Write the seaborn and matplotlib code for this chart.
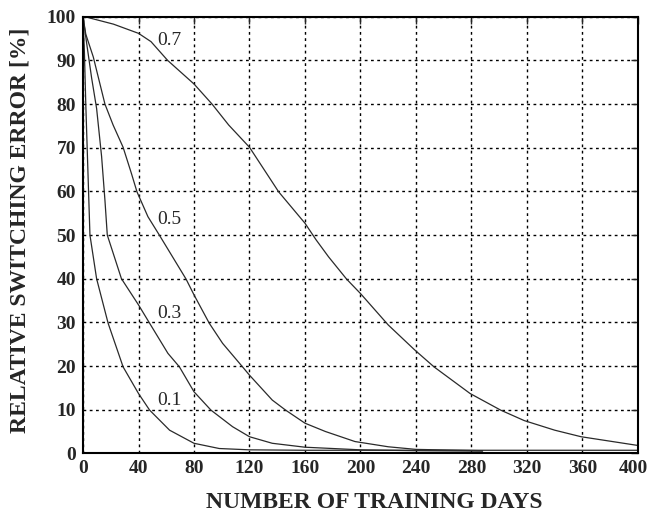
import pandas as pd
import numpy as np
import matplotlib
matplotlib.use("Agg")
import matplotlib.pyplot as plt
import matplotlib.transforms as mtransforms
import seaborn as sns

# values (days, relative switching error %)
days_07 = [0, 1.4, 22, 40, 49, 61, 80, 93, 105, 120, 141, 160, 168, 177, 190, 200,
           220, 239, 253, 279, 301, 318, 340, 359, 400]
err_07 = [100, 100, 98.3, 96.2, 94.3, 90, 84.6, 80, 75.2, 70.1, 59.9, 52.7, 48.9, 45, 39.9, 36.6,
          29.4, 23.7, 19.8, 13.7, 9.9, 7.5, 5.3, 3.8, 1.8]

days_05 = [0, 2, 7.4, 15.8, 21.7, 28.9, 34.9, 38.9, 46.8, 55, 74.3, 80, 91, 100.6, 115, 120,
           136.4, 146, 160, 174.7, 196, 220, 240, 288]
err_05 = [100, 96, 90.8, 80, 75.2, 70.1, 64.1, 59.9, 54.2, 50, 39.9, 36.3, 29.8, 25.2, 19.8, 17.9,
          12.2, 9.9, 6.9, 5, 2.7, 1.5, 0.9, 0.6]

days_03 = [0, 2.6, 6.2, 9.8, 13.4, 15.8, 17.5, 27.7, 40, 48, 61.2, 69.5, 80, 92.2, 107.8, 120,
           136.4, 160, 200, 240, 288]
err_03 = [100, 94, 86, 79, 68, 58, 50, 40, 34, 29.8, 22.9, 19.8, 14.1, 9.9, 6.1, 3.8,
          2.3, 1.4, 0.8, 0.6, 0.5]

days_01 = [0, 1, 2, 3, 4, 5, 9.8, 18.1, 28.9, 40, 48, 62.4, 80, 98.2, 120, 160, 240, 400]
err_01 = [100, 92, 80, 70, 60, 50, 40, 29.8, 19.8, 13.7, 9.9, 5.3, 2.3, 1.1, 0.8, 0.7, 0.7, 0.7]

curve_labels = ["0.7", "0.5", "0.3", "0.1"]
label_x = [62, 62, 62, 62]
label_y = [94.5, 53.5, 32, 12]

x_ticks = list(range(0, 401, 40))
y_ticks = list(range(0, 101, 10))

sns.set_style("white")
plt.rcParams["font.family"] = ["Liberation Serif", "DejaVu Serif"]

fig = plt.figure(figsize=(6.5, 5.12), dpi=100)
ax = fig.add_axes([0.1277, 0.1146, 0.8538, 0.8527])

series = [(days_07, err_07), (days_05, err_05), (days_03, err_03), (days_01, err_01)]
for (xs, ys) in series:
    sns.lineplot(x=xs, y=ys, ax=ax, color="#2a2a2a", linewidth=0.9,
                 sort=False, estimator=None)

for txt, lx, ly in zip(curve_labels, label_x, label_y):
    ax.text(lx, ly, txt, fontsize=14, ha="center", va="center")

ax.set_xlim(0, 400)
ax.set_ylim(0, 100)
ax.set_xticks(x_ticks)
ax.set_yticks(y_ticks)
ax.grid(True, color="black", linestyle=(0, (2, 2.5)), linewidth=1)
ax.tick_params(direction="in", length=5, width=1, top=True, right=True,
               labelsize=14, pad=5)
for lab in ax.get_xticklabels() + ax.get_yticklabels():
    lab.set_fontweight("bold")
# last x tick label sits a bit left of the frame edge
last = ax.get_xticklabels()[-1]
last.set_transform(last.get_transform() + mtransforms.ScaledTranslation(-5 / 100, 0, fig.dpi_scale_trans))

for s in ax.spines.values():
    s.set_color("black")
    s.set_linewidth(1.5)

ax.set_xlabel("NUMBER OF TRAINING DAYS", fontsize=17, fontweight="bold")
ax.set_ylabel("RELATIVE SWITCHING ERROR [%]", fontsize=17, fontweight="bold")
ax.xaxis.set_label_coords(0.524, -0.088)
ax.yaxis.set_label_coords(-0.094, 0.511)

fig.savefig("out.png", dpi=100)
